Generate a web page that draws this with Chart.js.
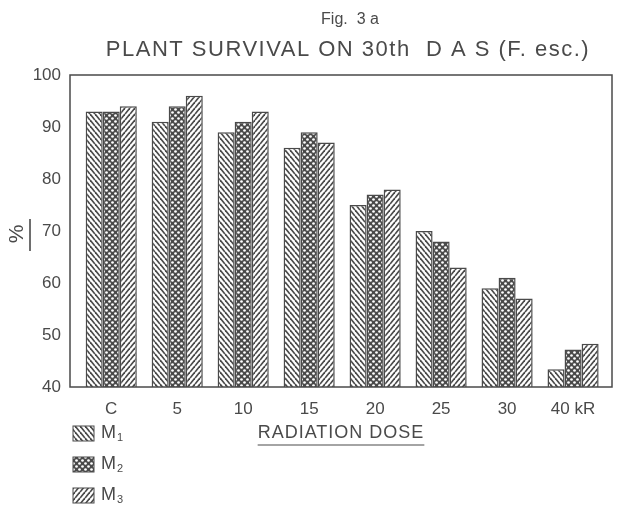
<!DOCTYPE html>
<html lang="en">
<head>
    <meta charset="UTF-8">
    <title>Plant survival on 30th DAS</title>
    <script src="https://cdn.jsdelivr.net/npm/chart.js"></script>
    <style>
        html, body { margin: 0; padding: 0; background: #fff; }
        #wrap { position: relative; width: 618px; height: 508px; }
    </style>
</head>
<body>
<div id="wrap"><canvas id="barChart" width="618" height="508"></canvas></div>

<script>
    // data
    const doses = ['C', '5', '10', '15', '20', '25', '30', '40 kR'];
    const m1 = [93, 91, 89, 86, 75, 70, 59, 43.4];
    const m2 = [93, 94, 91, 89, 77, 68, 61, 47.2];
    const m3 = [94, 96, 93, 87, 78, 63, 57, 48.3];
    const seriesNames = ['M1', 'M2', 'M3'];
    const yTicks = [40, 50, 60, 70, 80, 90, 100];

    const INK = '#4a4a4a';
    const FONT = "'Liberation Sans', Arial, sans-serif";

    // hatch patterns
    function makePattern(kind) {
        const c = document.createElement('canvas');
        const ctx = c.getContext('2d');
        if (kind === 'dots') {
            c.width = 6; c.height = 6;
            ctx.fillStyle = INK;
            ctx.fillRect(0, 0, 6, 6);
            ctx.fillStyle = '#fff';
            [[1.5, 1.5], [4.5, 4.5]].forEach(p => {
                ctx.beginPath();
                ctx.arc(p[0], p[1], 1.35, 0, Math.PI * 2);
                ctx.fill();
            });
        } else {
            const w = 5, h = 6;
            c.width = w; c.height = h;
            ctx.fillStyle = '#fff';
            ctx.fillRect(0, 0, w, h);
            ctx.strokeStyle = INK;
            ctx.lineWidth = 1.7;
            for (let k = -1; k <= 1; k++) {
                ctx.beginPath();
                if (kind === 'back') {
                    ctx.moveTo(k * w, 0);
                    ctx.lineTo(k * w + w, h);
                } else {
                    ctx.moveTo(k * w + w, 0);
                    ctx.lineTo(k * w, h);
                }
                ctx.stroke();
            }
        }
        return document.getElementById('barChart').getContext('2d').createPattern(c, 'repeat');
    }

    const patterns = [makePattern('back'), makePattern('dots'), makePattern('fwd')];

    function toPoints(arr) {
        return arr.map((v, i) => ({ x: i, y: v }));
    }

    // frame, titles and legend drawn on top
    const decorations = {
        id: 'decorations',
        afterDraw(chart) {
            const ctx = chart.ctx;
            const a = chart.chartArea;
            ctx.save();
            ctx.strokeStyle = INK;
            ctx.lineWidth = 1.5;
            ctx.strokeRect(a.left, a.top, a.right - a.left, a.bottom - a.top);

            ctx.fillStyle = INK;
            ctx.textBaseline = 'middle';
            ctx.textAlign = 'center';
            ctx.font = '16px ' + FONT;
            ctx.fillText('Fig.  3 a', 350, 20);
            ctx.font = '22px ' + FONT;
            ctx.letterSpacing = '1.5px';
            ctx.fillText('PLANT SURVIVAL ON 30th  D A S (F. esc.)', 348, 50);

            // x title, underlined
            ctx.font = '18px ' + FONT;
            ctx.letterSpacing = '1px';
            const xt = 'RADIATION DOSE';
            const xw = ctx.measureText(xt).width;
            ctx.fillText(xt, 341, 433);
            ctx.letterSpacing = '0px';
            ctx.lineWidth = 1.2;
            ctx.beginPath();
            ctx.moveTo(341 - xw / 2, 445);
            ctx.lineTo(341 + xw / 2, 445);
            ctx.stroke();

            // y title "%" rotated with bar
            ctx.save();
            ctx.translate(17, 234);
            ctx.rotate(-Math.PI / 2);
            ctx.font = '21px ' + FONT;
            ctx.fillText('%', 0, 0);
            ctx.restore();
            ctx.lineWidth = 1.6;
            ctx.beginPath();
            ctx.moveTo(30, 219);
            ctx.lineTo(30, 251);
            ctx.stroke();

            // legend
            chart.data.datasets.forEach((ds, i) => {
                const y = 433 + i * 31;
                ctx.fillStyle = ds.backgroundColor;
                ctx.fillRect(73, y - 7, 21, 15);
                ctx.strokeStyle = INK;
                ctx.lineWidth = 1;
                ctx.strokeRect(73, y - 7, 21, 15);
                ctx.fillStyle = INK;
                ctx.textAlign = 'left';
                ctx.font = '18px ' + FONT;
                ctx.fillText(ds.label.charAt(0), 101, y);
                const mw = ctx.measureText('M').width;
                ctx.font = '11px ' + FONT;
                ctx.fillText(ds.label.slice(1), 102 + mw, y + 5);
            });
            ctx.restore();
        }
    };

    new Chart(document.getElementById('barChart'), {
        type: 'bar',
        data: {
            datasets: seriesNames.map((name, i) => ({
                label: name,
                data: toPoints([m1, m2, m3][i]),
                backgroundColor: patterns[i],
                borderColor: INK,
                borderWidth: 1.5,
                categoryPercentage: 0.775,
                barPercentage: 1.0
            }))
        },
        options: {
            responsive: false,
            animation: false,
            layout: { padding: { left: 0, top: 75, right: 6, bottom: 91 } },
            plugins: {
                legend: { display: false },
                tooltip: { enabled: false }
            },
            scales: {
                x: {
                    type: 'linear',
                    offset: false,
                    min: -0.625,
                    max: 7.59,
                    grid: { display: false, drawTicks: false },
                    border: { display: false },
                    afterBuildTicks: scale => {
                        scale.ticks = doses.map((d, i) => ({ value: i }));
                    },
                    afterFit: scale => { scale.height = 30; },
                    ticks: {
                        padding: 12,
                        autoSkip: false,
                        maxRotation: 0,
                        color: INK,
                        font: { family: FONT, size: 17 },
                        callback: v => doses[v]
                    }
                },
                y: {
                    min: 40,
                    max: 100,
                    afterBuildTicks: scale => {
                        scale.ticks = yTicks.map(v => ({ value: v }));
                    },
                    afterFit: scale => { scale.width = 70; },
                    grid: { display: false, drawTicks: false },
                    border: { display: false },
                    ticks: {
                        padding: 9,
                        color: INK,
                        font: { family: FONT, size: 17 }
                    }
                }
            }
        },
        plugins: [decorations]
    });
</script>
</body>
</html>
